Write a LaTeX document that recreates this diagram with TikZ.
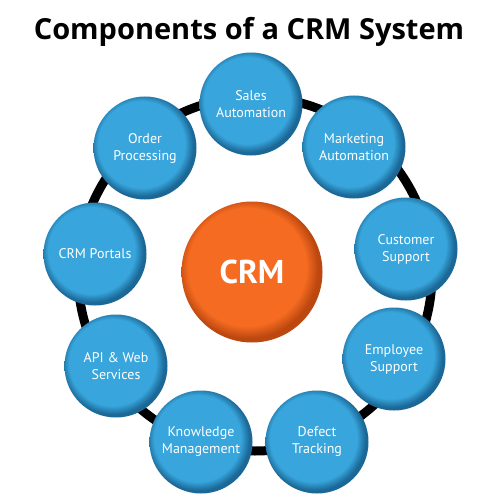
\documentclass[tikz,border=0pt]{standalone}
\usepackage{fontspec}
\setmainfont{PT Sans}
\newfontfamily\titlefont{Open Sans}
\usepackage{tikz}
\usetikzlibrary{positioning}
\definecolor{crmblue}{HTML}{38A6DC}
\definecolor{crmbluedark}{HTML}{1B6897}
\definecolor{crmorange}{HTML}{F46B21}
\definecolor{crmorangedark}{HTML}{BC470F}
\pgfdeclareradialshading{bluebutton}{\pgfpoint{-3bp}{3bp}}{color(0bp)=(crmblue); color(21bp)=(crmblue); color(25bp)=(crmbluedark); color(50bp)=(crmbluedark)}
\pgfdeclareradialshading{orangebutton}{\pgfpoint{-3bp}{3bp}}{color(0bp)=(crmorange); color(21bp)=(crmorange); color(25bp)=(crmorangedark); color(50bp)=(crmorangedark)}
\tikzset{
  part/.style={circle, minimum size=103pt, inner sep=0pt, shade, shading=bluebutton,
    text=white, align=center, font=\fontsize{14}{17}\selectfont},
  hub/.style={circle, minimum size=141pt, inner sep=0pt, shade, shading=orangebutton,
    text=white, font=\fontsize{33}{33}\selectfont\bfseries},
  ring/.style={line width=9pt, black}
}

\begin{document}
\begin{tikzpicture}[x=1pt, y=-1pt]
    \useasboundingbox (0,0) rectangle (500,500);
    \node[anchor=base, font=\fontsize{29}{31}\titlefont\bfseries](title)at(249, 40){Components of a CRM System};
    % ring behind the components
    \coordinate(ringc)at(255, 274);
    \draw[ring](ringc) circle (177pt);
    \node[hub](crm)at(252, 272){CRM};
    \node[part](sales)at(251, 104){Sales\\Automation};
    \node[part](marketing)at(354, 147){Marketing\\Automation};
    \node[part](customer)at(406, 249){Customer\\Support};
    \node[part](employee)at(394, 359){Employee\\Support};
    \node[part](defect)at(317, 442){Defect\\Tracking};
    \node[part](knowledge)at(201, 442){Knowledge\\Management};
    \node[part](api)at(116, 366){API \& Web\\Services};
    \node[part](portals)at(95, 254){CRM Portals};
    \node[part](order)at(145, 148){Order\\Processing};
\end{tikzpicture}
\end{document}
